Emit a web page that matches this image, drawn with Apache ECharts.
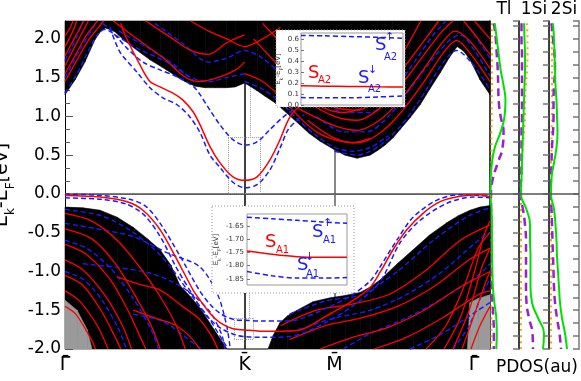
<!DOCTYPE html>
<html>
<head>
<meta charset="UTF-8">
<title>Tl/Si(111) surface bands</title>
<script src="https://cdn.jsdelivr.net/npm/echarts@6/dist/echarts.min.js"></script>
<style>
html, body { margin: 0; padding: 0; background: #fff; }
#chart { width: 581px; height: 381px; }
</style>
</head>
<body>
<div id="chart"></div>
<script>
// k path: Gamma - K - M - Gamma (hexagonal, |GK| = 1)
var kPoints = [0, 1, 1.5, 2.366];
var kLabels = ['Γ', 'K', 'M', 'Γ'];
var eMin = -2.0, eMax = 2.23;

// projected bulk bands: lower edge of conduction continuum, upper edge of valence continuum
var upperEdge = [[0,1.28],[0.056,1.47],[0.111,1.70],[0.167,1.99],[0.2,2.1],[0.223,2.14],[0.25,2.12],[0.278,2.09],[0.32,2.0],[0.362,1.92],
  [0.42,1.82],[0.473,1.73],[0.53,1.65],[0.585,1.57],[0.63,1.5],[0.668,1.45],[0.724,1.39],[0.78,1.37],[0.835,1.37],[0.9,1.37],[0.947,1.38],
  [1.0,1.43],[1.03,1.39],[1.07,1.33],[1.114,1.26],[1.16,1.19],[1.197,1.12],[1.25,1.01],[1.308,0.89],[1.36,0.78],[1.42,0.68],[1.5,0.57],
  [1.559,0.50],[1.626,0.46],[1.698,0.50],[1.74,0.56],[1.782,0.63],[1.825,0.72],[1.865,0.83],[1.92,0.98],[1.977,1.15],[2.03,1.35],
  [2.088,1.56],[2.14,1.76],[2.183,1.90],[2.22,1.84],[2.255,1.73],[2.311,1.47],[2.366,1.28]];
var lowerEdge = [[0,-0.17],[0.1,-0.18],[0.195,-0.21],[0.29,-0.3],[0.379,-0.43],[0.46,-0.58],[0.529,-0.72],[0.59,-0.92],[0.64,-1.18],
  [0.7,-1.33],[0.752,-1.47],[0.83,-1.75],[0.902,-2.0],[1.13,-2.0],[1.16,-1.82],[1.197,-1.66],
  [1.24,-1.57],[1.292,-1.50],[1.381,-1.39],[1.476,-1.34],[1.56,-1.31],[1.643,-1.27],[1.7,-1.2],[1.754,-1.11],[1.85,-0.9],
  [1.938,-0.72],[2.03,-0.53],[2.127,-0.37],[2.19,-0.28],[2.255,-0.21],[2.31,-0.17],[2.366,-0.15]];
var hatchLeft = [[0,-1.37],[0.067,-1.5],[0.123,-1.75],[0.15,-2.0]];
var hatchRight = [[2.24,-2.0],[2.255,-1.4],[2.3,-1.35],[2.366,-1.3]];

// slab bands inside the continua
var bulkRed = [
  [[0,1.45],[0.06,1.7],[0.13,1.98],[0.19,2.16],[0.215,2.23]],
  [[0,1.55],[0.06,1.8],[0.12,2.05],[0.17,2.2],[0.18,2.23]],
  [[0,1.65],[0.05,1.88],[0.1,2.1],[0.13,2.23]],
  [[0,1.78],[0.05,2.0],[0.09,2.17],[0.105,2.23]],
  [[0,1.9],[0.04,2.08],[0.065,2.23]],
  [[0,2.04],[0.03,2.15],[0.045,2.23]],
  [[0.27,2.23],[0.4,2.0],[0.55,1.75],[0.66,1.52],[0.74,1.45],[0.85,1.5],[0.95,1.6],[1.0,1.7]],
  [[0.45,2.23],[0.6,2.0],[0.7,1.85],[0.8,1.8],[0.9,1.95],[1.0,2.05]],
  [[0.7,2.23],[0.8,2.1],[0.9,2.0],[1.0,1.9],[1.1,2.0],[1.2,2.15]],
  [[1.0,1.55],[1.1,1.45],[1.2,1.25],[1.3,1.0],[1.4,0.8],[1.5,0.7],[1.6,0.66],[1.7,0.72]],
  [[1.05,2.0],[1.15,1.75],[1.25,1.5],[1.35,1.25],[1.45,1.1],[1.55,1.05],[1.65,1.1]],
  [[1.1,2.2],[1.2,1.95],[1.3,1.7],[1.4,1.45],[1.5,1.3],[1.6,1.25]],
  [[1.35,0.95],[1.5,0.72],[1.63,0.66],[1.75,0.78],[1.87,1.05],[2.0,1.45],[2.1,1.8],[2.18,1.98],[2.26,1.8],[2.366,1.45]],
  [[1.3,1.1],[1.5,0.88],[1.63,0.82],[1.75,0.95],[1.87,1.22],[2.0,1.62],[2.1,1.95],[2.17,2.1],[2.25,1.98],[2.366,1.62]],
  [[1.3,1.25],[1.5,1.0],[1.63,0.95],[1.75,1.1],[1.87,1.4],[2.0,1.8],[2.1,2.1],[2.16,2.23]],
  [[1.3,1.4],[1.5,1.12],[1.63,1.08],[1.75,1.25],[1.87,1.58],[2.0,1.98],[2.08,2.23]],
  [[1.4,1.6],[1.6,1.3],[1.75,1.45],[1.87,1.78],[1.98,2.23]],
  [[2.22,2.23],[2.3,2.0],[2.366,1.8]],
  [[2.28,2.23],[2.366,2.0]],
  [[0,-0.25],[0.15,-0.35],[0.3,-0.62],[0.45,-1.05],[0.55,-1.4],[0.62,-1.7],[0.67,-2.0]],
  [[0,-0.45],[0.15,-0.58],[0.28,-0.9],[0.4,-1.35],[0.48,-1.7],[0.53,-2.0]],
  [[0,-0.65],[0.12,-0.78],[0.25,-1.1],[0.35,-1.5],[0.42,-1.85],[0.45,-2.0]],
  [[0,-0.85],[0.1,-0.98],[0.22,-1.3],[0.32,-1.7],[0.37,-2.0]],
  [[0,-1.05],[0.1,-1.18],[0.2,-1.5],[0.28,-1.85],[0.31,-2.0]],
  [[0,-1.25],[0.08,-1.38],[0.18,-1.7],[0.24,-2.0]],
  [[0,-1.45],[0.06,-1.55],[0.14,-1.85],[0.17,-2.0]],
  [[0.29,-1.07],[0.42,-1.17],[0.53,-1.24],[0.66,-1.46],[0.75,-1.62],[0.82,-1.85],[0.85,-2.0]],
  [[0.38,-1.5],[0.5,-1.6],[0.62,-1.7],[0.7,-1.85],[0.75,-2.0]],
  [[1.2,-1.7],[1.4,-1.5],[1.6,-1.42],[1.8,-1.3],[2.0,-1.0],[2.2,-0.6],[2.366,-0.4]],
  [[1.25,-1.88],[1.45,-1.7],[1.65,-1.6],[1.85,-1.45],[2.05,-1.2],[2.25,-0.85],[2.366,-0.7]],
  [[1.42,-2.0],[1.6,-1.85],[1.8,-1.72],[2.0,-1.5],[2.2,-1.2],[2.366,-1.0]],
  [[1.72,-2.0],[1.9,-1.85],[2.1,-1.6],[2.3,-1.3],[2.366,-1.25]],
  [[2.11,-2.0],[2.2,-1.6],[2.28,-1.0],[2.33,-0.55],[2.366,-0.35]],
  [[2.16,-2.0],[2.25,-1.5],[2.32,-0.95],[2.366,-0.7]],
  [[2.21,-2.0],[2.28,-1.55],[2.34,-1.15],[2.366,-1.0]],
  [[2.01,-2.0],[2.12,-1.7],[2.22,-1.2],[2.3,-0.7],[2.366,-0.5]],
  [[2.26,-2.0],[2.31,-1.7],[2.366,-1.45]]
];
var bulkBlue = [
  [[0,1.3],[0.06,1.52],[0.12,1.8],[0.18,2.05],[0.22,2.12],[0.3,2.02],[0.4,1.88],[0.55,1.72],[0.65,1.58],[0.72,1.45]],
  [[0,1.5],[0.08,1.85],[0.15,2.12],[0.18,2.23]],
  [[0,1.72],[0.07,2.05],[0.1,2.23]],
  [[0.3,2.1],[0.45,1.9],[0.6,1.68],[0.7,1.5],[0.8,1.45],[0.9,1.5],[1.0,1.55]],
  [[0.5,2.2],[0.65,1.95],[0.8,1.7],[0.9,1.75],[1.0,1.85],[1.1,1.75],[1.2,1.55]],
  [[1.0,1.45],[1.1,1.35],[1.2,1.18],[1.3,0.95],[1.4,0.75],[1.5,0.6],[1.6,0.55],[1.7,0.6],[1.8,0.75]],
  [[1.5,0.55],[1.63,0.5],[1.75,0.62],[1.87,0.88],[2.0,1.3],[2.1,1.68],[2.18,1.85],[2.26,1.7],[2.366,1.35]],
  [[1.4,1.0],[1.55,0.8],[1.68,0.8],[1.8,1.0],[1.93,1.38],[2.05,1.75],[2.15,2.0],[2.2,2.05],[2.28,1.85],[2.366,1.52]],
  [[1.4,1.3],[1.55,1.05],[1.7,1.05],[1.82,1.3],[1.95,1.72],[2.05,2.05],[2.12,2.23]],
  [[2.25,2.15],[2.366,1.75]],
  [[0,-0.2],[0.2,-0.28],[0.35,-0.45],[0.5,-0.72],[0.6,-0.98],[0.7,-1.3],[0.8,-1.6],[0.88,-1.9],[0.91,-2.0]],
  [[0,-0.38],[0.2,-0.46],[0.38,-0.55],[0.57,-0.76],[0.75,-0.94],[0.85,-1.3],[0.9,-1.7],[0.92,-2.0]],
  [[0.1,-0.9],[0.29,-0.95],[0.47,-1.02],[0.65,-1.2],[0.8,-1.5],[0.87,-1.8],[0.89,-2.0]],
  [[0,-0.6],[0.12,-0.7],[0.25,-0.95],[0.38,-1.35],[0.48,-1.75],[0.52,-2.0]],
  [[0,-1.0],[0.1,-1.1],[0.2,-1.35],[0.3,-1.75],[0.34,-2.0]],
  [[0.38,-1.55],[0.55,-1.65],[0.7,-1.9],[0.76,-2.0]],
  [[1.25,-1.55],[1.45,-1.38],[1.65,-1.3],[1.85,-1.0],[2.05,-0.6],[2.25,-0.28],[2.366,-0.18]],
  [[1.3,-1.75],[1.5,-1.6],[1.7,-1.5],[1.9,-1.3],[2.1,-1.0],[2.3,-0.6],[2.366,-0.5]],
  [[1.55,-2.0],[1.7,-1.8],[1.9,-1.6],[2.1,-1.35],[2.3,-1.05],[2.366,-0.9]],
  [[1.92,-2.0],[2.1,-1.8],[2.3,-1.5],[2.366,-1.4]],
  [[2.16,-2.0],[2.25,-1.7],[2.32,-1.3],[2.366,-1.1]]
];

// surface states in the gap: S_A2 (conduction side) and S_A1 (valence side)
var sA2 = [[0.31,2.2],[0.334,2.05],[0.418,1.66],[0.473,1.45],[0.529,1.38],[0.601,1.30],[0.657,1.21],[0.713,1.06],
  [0.752,0.89],[0.807,0.61],[0.863,0.40],[0.935,0.22],[1.0,0.175],[1.069,0.22],[1.141,0.44],[1.197,0.70],
  [1.236,0.92],[1.269,1.05],[1.32,1.15]];
var sA2up = [[0.21,2.2],[0.251,2.12],[0.345,1.88],[0.434,1.70],[0.529,1.60],[0.624,1.51],[0.713,1.39],[0.752,1.28],
  [0.807,1.08],[0.863,0.89],[0.935,0.70],[1.0,0.63],[1.069,0.67],[1.141,0.83],[1.214,0.99],[1.28,1.1]];
var sA2dn = [[0.25,2.15],[0.306,1.83],[0.401,1.57],[0.473,1.37],[0.545,1.24],[0.624,1.15],[0.696,0.99],[0.752,0.79],
  [0.807,0.50],[0.863,0.34],[0.935,0.15],[1.0,0.08],[1.069,0.12],[1.141,0.31],[1.197,0.59],[1.242,0.83],
  [1.292,0.95],[1.33,1.02]];
var sA1 = [[0,-0.02],[0.195,-0.04],[0.345,-0.10],[0.434,-0.21],[0.529,-0.46],[0.624,-0.85],[0.713,-1.24],[0.752,-1.37],
  [0.807,-1.54],[0.863,-1.66],[0.935,-1.74],[1.0,-1.755],[1.086,-1.77],[1.197,-1.77],[1.308,-1.755],[1.45,-1.58],
  [1.6,-1.38],[1.7,-1.2],[1.754,-1.01],[1.826,-0.72],[1.904,-0.46],[1.993,-0.25],[2.088,-0.10],[2.199,-0.03],
  [2.311,-0.01],[2.366,-0.04]];
var sA1up = [[0,0.0],[0.2,-0.02],[0.36,-0.07],[0.45,-0.16],[0.53,-0.38],[0.64,-0.8],[0.75,-1.25],[0.81,-1.43],
  [0.87,-1.55],[0.94,-1.62],[1.0,-1.63],[1.1,-1.64],[1.2,-1.64],[1.3,-1.62],[1.45,-1.48],[1.6,-1.3],[1.7,-1.12],
  [1.754,-0.94],[1.849,-0.59],[1.938,-0.30],[2.071,-0.08],[2.199,-0.01],[2.366,-0.03]];
var sA1dn = [[0,-0.05],[0.2,-0.07],[0.34,-0.13],[0.44,-0.27],[0.53,-0.55],[0.62,-0.95],[0.71,-1.3],[0.78,-1.55],
  [0.86,-1.72],[0.95,-1.82],[1.0,-1.84],[1.1,-1.85],[1.25,-1.84],[1.4,-1.72],[1.6,-1.45],[1.754,-1.13],
  [1.865,-0.63],[1.977,-0.34],[2.127,-0.12],[2.272,-0.04],[2.366,-0.05]];

// zoomed insets around K
var inA2 = [[0.92,0.177],[0.96,0.172],[1.0,0.170],[1.05,0.167],[1.09,0.165]];
var inA2up = [[0.92,0.637],[0.96,0.634],[1.0,0.628],[1.05,0.620],[1.09,0.612]];
var inA2dn = [[0.92,0.068],[0.96,0.066],[1.0,0.066],[1.05,0.074],[1.09,0.083]];
var inA1 = [[0.95,-1.745],[0.975,-1.757],[1.0,-1.766],[1.025,-1.768],[1.05,-1.768]];
var inA1up = [[0.95,-1.617],[0.975,-1.623],[1.0,-1.629],[1.025,-1.635],[1.05,-1.640]];
var inA1dn = [[0.95,-1.822],[0.975,-1.838],[1.0,-1.847],[1.025,-1.847],[1.05,-1.845]];
// zoom frames in the main panel: [kLeft, kRight, eTop, eBottom]
var zoomBoxes = [[0.908, 1.086, 0.735, 0.013], [0.942, 1.047, -1.605, -1.87]];

// PDOS (au) on an energy grid
var pdosE = [2.2,2.0,1.8,1.6,1.4,1.2,1.0,0.8,0.6,0.4,0.2,0.0,-0.2,-0.4,-0.6,-0.8,-1.0,-1.2,-1.4,-1.6,-1.8,-2.0];
var tlS  = [5,7,9,11,14,16,15,11,5,2,0.7,0.5,1.5,2,2,2.2,2.5,3,4.5,6.5,7,6.5];
var tlP  = [4,6,7,8,8.5,9,11,14,13,8,3,1,1,1,1.2,1.5,1.5,2,2.5,3.5,4,4];
var tlD  = [2,2,2,2,2,1.8,1.8,1.5,1.5,1.5,1.2,1,1.5,1.5,1.5,1.5,1.5,1.5,1.5,1.5,1.5,1.5];
var si1S = [5,5.5,6,6,5.5,5,4.5,4,3.5,3,2.5,2,7.5,11,11,11.5,11.5,11.5,13,19,25,24];
var si1P = [2.5,2.5,3,3,3,3,3,2.5,2.5,2.5,2,1,4,6,7,7,7,7,7.5,10,13.5,14];
var si1D = [8,8.5,8.5,8,7,6,6,5,4,3,2.5,2,2,2,2,2,2,2,2,2,2,2];
var si2S = [4,5,5.5,6,6.5,7.5,8,8.5,7.5,5,2.5,2,5,6.5,7.5,8,9,10,11,13,16,18];
var si2P = [2.5,4,5.5,6,5,4.5,4.5,4,3,2.5,2,1.5,2.5,3,3.5,4,4.5,5,6,8,10.5,12];
var si2D = [2.5,2.5,3,3,3,3,3,2.5,2.5,2,2,2,2,2,2,2,2,2,2,2,2,2];
var pdosNames = ['Tl', '1Si', '2Si'];

var chart = echarts.init(document.getElementById('chart'), null, {renderer: 'canvas'});

var RED = '#ff0000', BLUE = '#1a1aff';
var font = 'DejaVu Sans';

// filled strip between an edge curve and the axis limit: one quad per edge segment
function region(edge, capE, fill, z) {
    return {
        type: 'custom', xAxisIndex: 0, yAxisIndex: 0, data: edge, clip: false, silent: true, z: z,
        encode: {x: 0, y: 1},
        renderItem: function (params, api) {
            var i = params.dataIndex;
            if (i >= edge.length - 1) return null;
            var a = edge[i], b = edge[i + 1];
            var pts = [api.coord(a), api.coord(b), api.coord([b[0], capE]), api.coord([a[0], capE])];
            return {type: 'polygon', shape: {points: pts}, style: {fill: fill, stroke: fill, lineWidth: 0.6}};
        }
    };
}

function bands(lines, color, dashed, z, width) {
    return lines.map(function (pts) {
        return {
            type: 'line', xAxisIndex: 0, yAxisIndex: 0, data: pts, smooth: 0.3, symbol: 'none',
            silent: true, clip: false, z: z,
            lineStyle: {color: color, width: width, type: dashed ? [5, 3] : 'solid'}
        };
    });
}

function curve(pts, color, dashed, xi, yi, zl, z, w) {
    return {
        type: 'line', xAxisIndex: xi, yAxisIndex: yi, data: pts, smooth: 0.3, symbol: 'none',
        silent: true, clip: false, zlevel: zl, z: z,
        lineStyle: {color: color, width: w || 1.5, type: dashed ? [5, 3] : 'solid'}
    };
}

var series = [];
series.push(region(upperEdge, eMax, '#000', 5));
series.push(region(lowerEdge, eMin, '#000', 5));
series.push(region(hatchLeft, eMin, '#9a9a9a', 5));
series.push(region(hatchRight, eMin, '#9a9a9a', 5));
series = series.concat(bands(bulkBlue, BLUE, true, 6, 1.4));
series = series.concat(bands(bulkRed, RED, false, 6, 1.3));

// guide lines (K, M, E_F) and dotted zoom frames, carried by the S_A2 up-spin curve
var dotted = {color: '#999', width: 1, type: 'dotted'};
var guideData = [
    {xAxis: 1.0, lineStyle: {color: '#000', width: 1.5, type: 'solid'}},
    {xAxis: 1.5, lineStyle: {color: '#888', width: 2, type: 'solid'}},
    {yAxis: 0, lineStyle: {color: '#555', width: 1.5, type: 'solid'}},
    [{coord: [1.03, 1.768], lineStyle: dotted}, {coord: [1.03, 0.735]}],
    [{coord: [1.03, 1.768], lineStyle: dotted}, {coord: [1.175, 1.768]}],
    [{coord: [1.024, -1.28], lineStyle: dotted}, {coord: [1.024, -1.605]}]
];
zoomBoxes.forEach(function (b) {
    guideData.push([{coord: [b[0], b[2]], lineStyle: dotted}, {coord: [b[1], b[2]]}]);
    guideData.push([{coord: [b[1], b[2]], lineStyle: dotted}, {coord: [b[1], b[3]]}]);
    guideData.push([{coord: [b[1], b[3]], lineStyle: dotted}, {coord: [b[0], b[3]]}]);
    guideData.push([{coord: [b[0], b[3]], lineStyle: dotted}, {coord: [b[0], b[2]]}]);
});
series.push(Object.assign(curve(sA2up, BLUE, true, 0, 0, 0, 8), {
    markLine: {silent: true, symbol: ['none', 'none'], label: {show: false}, animation: false, data: guideData}
}));
series.push(curve(sA2dn, BLUE, true, 0, 0, 0, 8));
series.push(curve(sA2, RED, false, 0, 0, 0, 8));
series.push(curve(sA1up, BLUE, true, 0, 0, 0, 8));
series.push(curve(sA1dn, BLUE, true, 0, 0, 0, 8));
series.push(curve(sA1, RED, false, 0, 0, 0, 8));

// PDOS panels
var pdosSets = [[tlS, tlP, tlD], [si1S, si1P, si1D], [si2S, si2P, si2D]];
pdosSets.forEach(function (set, p) {
    var idx = p + 1;
    function pts(v) { return pdosE.map(function (e, i) { return [v[i], e]; }); }
    series.push({type: 'line', xAxisIndex: idx, yAxisIndex: idx, data: pts(set[2]), smooth: true, symbol: 'none',
        silent: true, lineStyle: {color: '#ffa500', width: 2, type: [2, 4]}});
    series.push({type: 'line', xAxisIndex: idx, yAxisIndex: idx, data: pts(set[1]), smooth: true, symbol: 'none',
        silent: true, lineStyle: {color: '#9b1fd0', width: 2.5, type: [8, 5]}});
    series.push({type: 'line', xAxisIndex: idx, yAxisIndex: idx, data: pts(set[0]), smooth: true, symbol: 'none',
        silent: true, lineStyle: {color: '#00e000', width: 2},
        markLine: {silent: true, symbol: ['none', 'none'], label: {show: false},
            data: [{yAxis: 0, lineStyle: {color: '#555', width: 1.5, type: 'solid'}}]}});
});

// insets
series.push(Object.assign(curve(inA2up, BLUE, true, 4, 7, 1, 7), {
    markLine: {silent: true, symbol: ['none', 'none'], label: {show: false},
        data: [{xAxis: 1.0, lineStyle: {color: '#888', width: 1, type: 'solid'}}]}}));
series.push(curve(inA2dn, BLUE, true, 4, 7, 1, 7));
series.push(curve(inA2, RED, false, 4, 7, 1, 7));
series.push(Object.assign(curve(inA1up, BLUE, true, 5, 8, 1, 7), {
    markLine: {silent: true, symbol: ['none', 'none'], label: {show: false},
        data: [{xAxis: 1.0, lineStyle: {color: '#888', width: 1, type: 'solid'}}]}}));
series.push(curve(inA1dn, BLUE, true, 5, 8, 1, 7));
series.push(curve(inA1, RED, false, 5, 8, 1, 7));

var grids = [
    {left: 65, top: 21, width: 425, height: 328},
    {left: 490, top: 21, width: 29, height: 328},
    {left: 519, top: 21, width: 30, height: 328},
    {left: 549, top: 21, width: 30, height: 328},
    {left: 301, top: 33, width: 102, height: 72, show: true, backgroundColor: '#fff', borderColor: '#999', borderWidth: 1, zlevel: 1, z: 5},
    {left: 247, top: 214, width: 100, height: 71, show: true, backgroundColor: '#fff', borderColor: '#999', borderWidth: 1, zlevel: 1, z: 5}
];
grids.forEach(function (g) { g.containLabel = false; g.outerBoundsMode = 'none'; });

var hidden = {axisLine: {show: false}, axisTick: {show: false}, axisLabel: {show: false}, splitLine: {show: false}};
function ax(extra) { return Object.assign({}, JSON.parse(JSON.stringify(hidden)), extra); }

var xAxes = [
    {
        type: 'value', gridIndex: 0, min: 0, max: 2.366,
        axisLine: {show: true, lineStyle: {color: '#888', width: 1}},
        axisTick: {show: false}, splitLine: {show: false},
        axisLabel: {
            customValues: kPoints, margin: 7, color: '#000',
            alignMinLabel: 'center', alignMaxLabel: 'center',
            formatter: function (v) {
                var i = kPoints.indexOf(v);
                if (i === 3) return '{gr|Γ\u0304}';
                return '{s|' + kLabels[i] + '\u0304}';
            },
            rich: {
                gr: {fontFamily: font, fontSize: 19, color: '#000', padding: [0, 32, 0, 0]},
                s: {fontFamily: font, fontSize: 19, color: '#000'}
            }
        }
    },
    ax({type: 'value', gridIndex: 1, min: 0, max: 30}),
    ax({type: 'value', gridIndex: 2, min: 0, max: 30}),
    ax({type: 'value', gridIndex: 3, min: 0, max: 30}),
    ax({type: 'value', gridIndex: 4, min: 0.92, max: 1.09, zlevel: 1, z: 6}),
    ax({type: 'value', gridIndex: 5, min: 0.95, max: 1.05, zlevel: 1, z: 6})
];

var yAxes = [
    {
        type: 'value', gridIndex: 0, min: eMin, max: eMax, interval: 0.5,
        axisLine: {show: true, lineStyle: {color: '#000', width: 1}},
        axisTick: {show: true, inside: true, length: 8, lineStyle: {color: '#555'}},
        minorTick: {show: true, splitNumber: 3, length: 5, lineStyle: {color: '#555'}},
        splitLine: {show: false},
        axisLabel: {fontFamily: font, fontSize: 17, color: '#000', margin: 4, showMaxLabel: false,
            formatter: function (v) { return v.toFixed(1); }},
        name: '{a|E}{b|k}{a|-E}{b|F}{a|[eV]}', nameLocation: 'middle', nameGap: 38, nameRotate: 90,
        nameTextStyle: {rich: {
            a: {fontFamily: font, fontSize: 19, color: '#000', lineHeight: 30, verticalAlign: 'middle'},
            b: {fontFamily: font, fontSize: 12, color: '#000', lineHeight: 30, verticalAlign: 'bottom'}
        }}
    }
];
[1, 2, 3].forEach(function (g) {
    yAxes.push(ax({type: 'value', gridIndex: g, min: eMin, max: eMax, interval: 1 / 6,
        axisLine: {show: true, lineStyle: {color: '#000', width: 1.5}}}));
});
[1, 2, 3].forEach(function (g) {
    yAxes.push(ax({type: 'value', gridIndex: g, min: eMin, max: eMax, interval: 1 / 6, position: 'right',
        axisLine: {show: g === 3, lineStyle: {color: '#999', width: 2}},
        axisTick: {show: true, inside: true, length: 6, lineStyle: {color: '#777', width: 1.5}}}));
});
yAxes.push({
    type: 'value', gridIndex: 4, min: 0, max: 0.66, interval: 0.1, zlevel: 1, z: 6,
    axisLine: {show: false}, splitLine: {show: false},
    axisTick: {show: true, inside: true, length: 3, lineStyle: {color: '#777'}},
    axisLabel: {fontFamily: font, fontSize: 7, color: '#333', margin: 2, showMaxLabel: false,
        formatter: function (v) { return v.toFixed(1); }},
    name: '{a|E}{b|k}{a|-E}{b|F}{a|[eV]}', nameLocation: 'middle', nameGap: 17, nameRotate: 90,
    nameTextStyle: {rich: {
        a: {fontFamily: font, fontSize: 7, color: '#333', lineHeight: 11, verticalAlign: 'middle'},
        b: {fontFamily: font, fontSize: 5, color: '#333', lineHeight: 11, verticalAlign: 'bottom'}
    }}
});
yAxes.push({
    type: 'value', gridIndex: 5, min: -1.873, max: -1.605, zlevel: 1, z: 6,
    axisLine: {show: false}, splitLine: {show: false},
    axisTick: {show: true, inside: true, length: 3, customValues: [-1.85, -1.8, -1.75, -1.7, -1.65], lineStyle: {color: '#777'}},
    axisLabel: {fontFamily: font, fontSize: 7, color: '#333', margin: 3,
        customValues: [-1.85, -1.8, -1.75, -1.7, -1.65],
        formatter: function (v) { return v.toFixed(2); }},
    name: '{a|E}{b|k}{a|-E}{b|F}{a|[eV]}', nameLocation: 'middle', nameGap: 24, nameRotate: 90,
    nameTextStyle: {rich: {
        a: {fontFamily: font, fontSize: 7, color: '#333', lineHeight: 11, verticalAlign: 'middle'},
        b: {fontFamily: font, fontSize: 5, color: '#333', lineHeight: 11, verticalAlign: 'bottom'}
    }}
});

function txt(s, x, y, size, color, align) {
    return {type: 'text', x: x, y: y, zlevel: 1, z: 20, silent: true,
        style: {text: s, font: size + 'px "' + font + '"', fill: color, align: align || 'left', verticalAlign: 'top'}};
}

var graphics = [
    {type: 'rect', zlevel: 1, z: 1, silent: true, shape: {x: 276, y: 30, width: 129, height: 77},
        style: {fill: '#fff', stroke: '#aaa', lineWidth: 1, lineDash: [1, 2]}},
    {type: 'rect', zlevel: 1, z: 1, silent: true, shape: {x: 212, y: 206, width: 142, height: 87},
        style: {fill: '#fff', stroke: '#999', lineWidth: 1, lineDash: [1, 2]}},
    txt('S', 308, 64, 18, RED), txt('A2', 318, 75, 10, RED),
    txt('S', 375, 36, 18, BLUE), txt('↑', 385, 32, 11, BLUE), txt('A2', 384, 52, 10, BLUE),
    txt('S', 358, 69, 18, BLUE), txt('↓', 368, 65, 11, BLUE), txt('A2', 368, 84, 10, BLUE),
    txt('S', 265, 233, 18, RED), txt('A1', 276, 245, 10, RED),
    txt('S', 312, 223, 18, BLUE), txt('↑', 323, 218, 11, BLUE), txt('A1', 323, 235, 10, BLUE),
    txt('S', 297, 256, 18, BLUE), txt('↓', 305, 252, 11, BLUE), txt('A1', 306, 269, 10, BLUE)
];
var topLabels = [504, 534, 564];
pdosNames.forEach(function (n, i) {
    graphics.push(txt(n, topLabels[i], 1, 17, '#000', 'center'));
});
graphics.push(txt('PDOS(au)', 537, 359, 17, '#000', 'center'));

chart.setOption({
    animation: false,
    backgroundColor: '#fff',
    grid: grids,
    xAxis: xAxes,
    yAxis: yAxes,
    graphic: graphics,
    series: series
});
</script>
</body>
</html>
